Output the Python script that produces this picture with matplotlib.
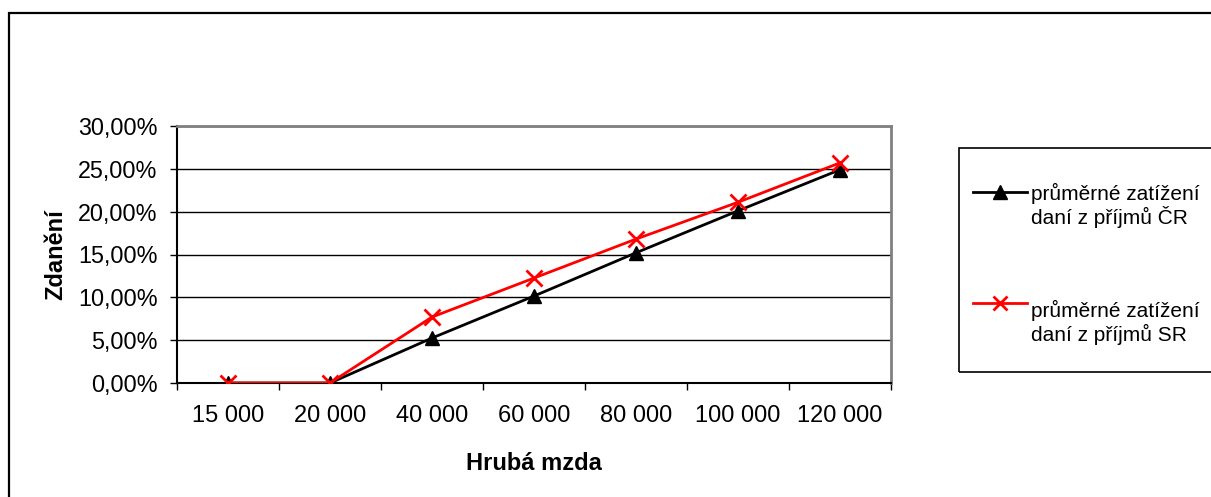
import matplotlib
matplotlib.use("Agg")
import matplotlib.pyplot as plt
from matplotlib.patches import Rectangle
from matplotlib.lines import Line2D
from matplotlib.ticker import FuncFormatter, MultipleLocator

# gross wage categories and average income tax burden (%)
wages = ["15 000", "20 000", "40 000", "60 000", "80 000", "100 000", "120 000"]
tax_cr = [0.0, 0.0, 5.25, 10.15, 15.2, 20.1, 24.9]
tax_sr = [0.0, 0.0, 7.7, 12.25, 16.8, 21.1, 25.7]

legend_cr = ["průměrné zatížení", "daní z příjmů ČR"]
legend_sr = ["průměrné zatížení", "daní z příjmů SR"]

plt.rcParams["font.family"] = ["Liberation Sans", "DejaVu Sans"]

W, H = 1211, 497
fig = plt.figure(figsize=(W / 100, H / 100), dpi=100)

def fx(px):
    return px / W

def fy(py):
    return 1 - py / H

# outer chart frame
fig.patches.append(Rectangle((fx(9), fy(510)), fx(1220) - fx(9), fy(13) - fy(510),
                             transform=fig.transFigure, fill=False,
                             edgecolor="black", linewidth=1.6, clip_on=False))

ax = fig.add_axes([fx(177), fy(383), fx(891) - fx(177), fy(126) - fy(383)])

x = list(range(len(wages)))
ax.plot(x, tax_cr, color="black", linewidth=2, marker="^", markersize=10,
        markerfacecolor="black", markeredgecolor="black", zorder=3)
ax.plot(x, tax_sr, color="red", linewidth=2, marker="x", markersize=11,
        markeredgewidth=2, zorder=4)

ax.set_xlim(-0.5, len(wages) - 0.5)
ax.set_ylim(0, 30)
ax.yaxis.set_major_locator(MultipleLocator(5))
ax.yaxis.set_major_formatter(FuncFormatter(lambda v, p: f"{v:.2f}%".replace(".", ",")))
ax.set_xticks(x)
ax.set_xticklabels(wages)
ax.set_xticks([i + 0.5 for i in range(-1, len(wages))], minor=True)
ax.tick_params(axis="x", which="major", length=0, pad=15.5, labelsize=17)
ax.tick_params(axis="x", which="minor", length=5, width=1, direction="out")
ax.tick_params(axis="y", length=5, width=1, direction="out", pad=9, labelsize=16.8)

ax.grid(axis="y", color="black", linewidth=1)
ax.set_axisbelow(True)
for side in ["top", "right"]:
    ax.spines[side].set_color("#808080")
    ax.spines[side].set_linewidth(2)
ax.spines["left"].set_color("black")
ax.spines["bottom"].set_color("black")
ax.spines["left"].set_linewidth(1.5)
ax.spines["bottom"].set_linewidth(1.5)

ax.set_xlabel("Hrubá mzda", fontsize=17, fontweight="bold", labelpad=18)
ax.set_ylabel("Zdanění", fontsize=17, fontweight="bold", labelpad=8)

# legend box, drawn by hand so the symbol sits on the first text line
fig.patches.append(Rectangle((fx(959), fy(372)), fx(1220) - fx(959), fy(148) - fy(372),
                             transform=fig.transFigure, fill=False,
                             edgecolor="black", linewidth=1.2, clip_on=False))

entries = [
    (legend_cr, dict(color="black", marker="^", markersize=9.5), 192, 200),
    (legend_sr, dict(color="red", marker="x", markersize=10.5, markeredgewidth=2), 303, 317),
]
for lines, style, y_sym, y_base in entries:
    fig.add_artist(Line2D([fx(973), fx(1027)], [fy(y_sym), fy(y_sym)], linewidth=2,
                          transform=fig.transFigure, color=style["color"]))
    fig.add_artist(Line2D([fx(1000)], [fy(y_sym)], linestyle="none",
                          transform=fig.transFigure, **style))
    for i, t in enumerate(lines):
        fig.text(fx(1031), fy(y_base + 24 * i), t, fontsize=15,
                 ha="left", va="baseline")

fig.savefig("out.png", dpi=100)
